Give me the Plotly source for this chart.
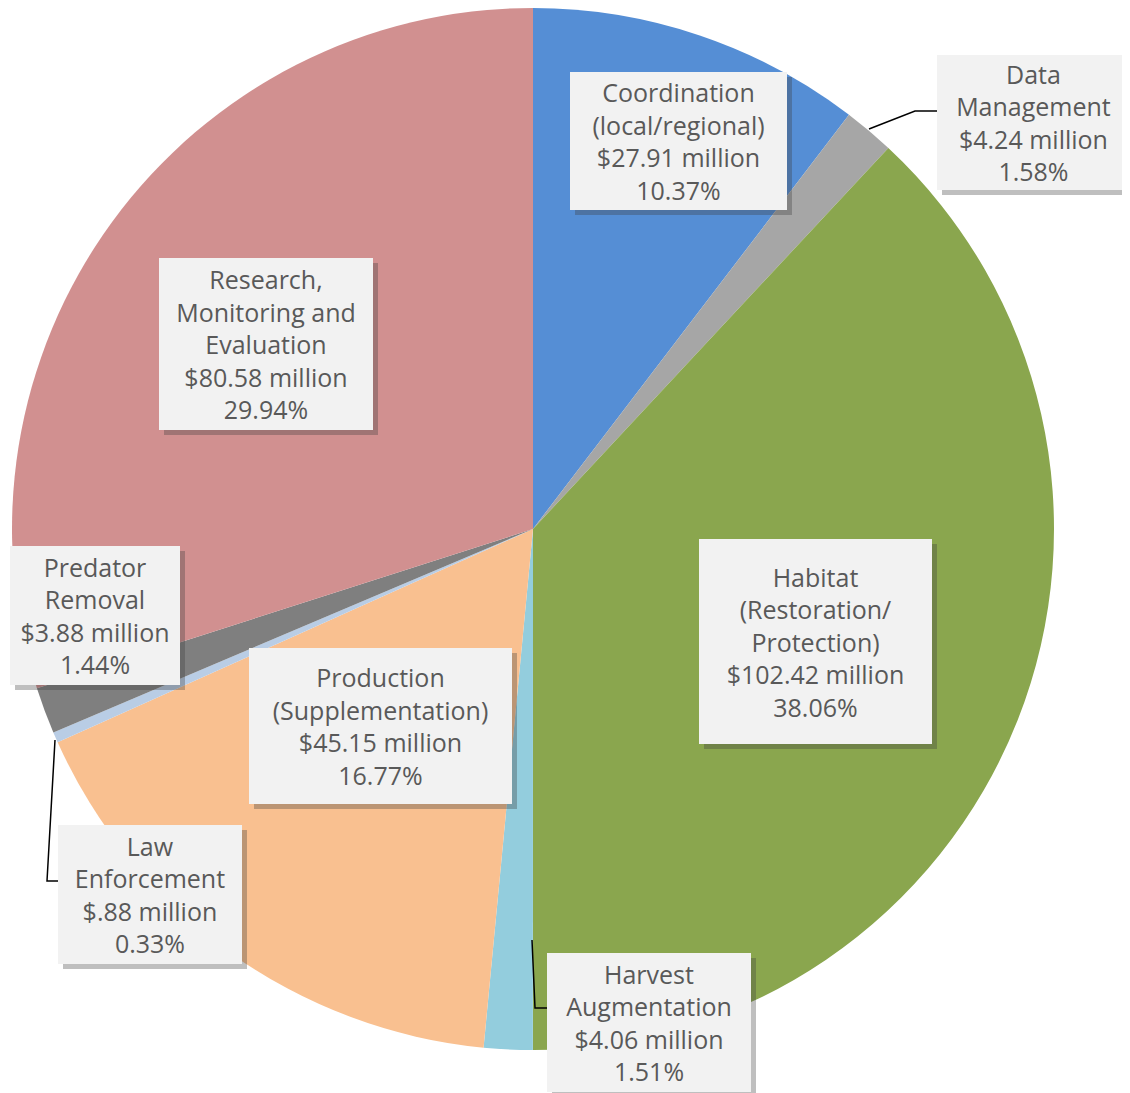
import plotly.graph_objects as go

W, H = 1122, 1085
OFF = 8  # page body offset

categories = ["Coordination (local/regional)", "Data Management", "Habitat (Restoration/ Protection)",
              "Harvest Augmentation", "Production (Supplementation)", "Law Enforcement",
              "Predator Removal", "Research, Monitoring and Evaluation"]
values = [27.91, 4.24, 102.42, 4.06, 45.15, 0.88, 3.88, 80.58]
percents = ["10.37%", "1.58%", "38.06%", "1.51%", "16.77%", "0.33%", "1.44%", "29.94%"]
money = ["$27.91 million", "$4.24 million", "$102.42 million", "$4.06 million",
         "$45.15 million", "$.88 million", "$3.88 million", "$80.58 million"]
label_lines = [["Coordination", "(local/regional)"], ["Data", "Management"],
               ["Habitat", "(Restoration/", "Protection)"], ["Harvest", "Augmentation"],
               ["Production", "(Supplementation)"], ["Law", "Enforcement"],
               ["Predator", "Removal"], ["Research,", "Monitoring and", "Evaluation"]]
colors = ["#558ED5", "#A6A6A6", "#8AA64E", "#93CDDD", "#F9C090", "#B9CDE5", "#7F7F7F", "#D19090"]

# label box layout (pixel centres and sizes, in page pixels)
boxes = [(678, 141, 217, 138), (1033, 123, 193, 135), (815, 641, 233, 205), (649, 1022, 204, 139),
         (380, 726, 263, 156), (150, 894, 184, 139), (95, 615, 170, 139), (266, 344, 214, 172)]

def px(x):
    return min(max((x - OFF) / W, 0), 1)

def py(y):
    return min(max(1 - (y - OFF) / H, 0), 1)

fig = go.Figure()
fig.add_trace(go.Pie(
    labels=categories, values=values, sort=False, direction="clockwise", rotation=0,
    marker=dict(colors=colors, line=dict(width=0)),
    textinfo="none", hoverinfo="label+value+percent", showlegend=False,
    domain=dict(x=[px(12), px(1054)], y=[py(1050), py(8)]),
))

annotations = []
for i, (cx, cy, bw, bh) in enumerate(boxes):
    text = "<br>".join(label_lines[i] + [money[i], percents[i]])
    annotations.append(dict(
        x=(cx + 5 - OFF) / W, y=1 - (cy + 5 - OFF) / H, xref="paper", yref="paper", text="",
        showarrow=False, width=bw, height=bh, bgcolor="rgba(60,60,60,0.33)",
        borderpad=0, borderwidth=0, xanchor="center", yanchor="middle"))
    annotations.append(dict(
        x=(cx - OFF) / W, y=1 - (cy - OFF) / H, xref="paper", yref="paper", text=text,
        showarrow=False, width=bw, height=bh, bgcolor="#F2F2F2",
        borderpad=0, borderwidth=0, xanchor="center", yanchor="middle", align="center",
        font=dict(family="Open Sans, Lato, sans-serif", size=25, color="#595959")))

def path(points):
    d = "M " + " L ".join(f"{px(x)},{py(y)}" for x, y in points)
    return dict(type="path", path=d, xref="paper", yref="paper",
                line=dict(color="black", width=1.5))

shapes = [
    path([(869, 129), (915, 111), (937, 111)]),
    path([(532, 940), (535, 1008), (547, 1008)]),
    path([(55, 740), (47, 881), (58, 881)]),
]

fig.update_layout(
    width=W, height=H, margin=dict(l=0, r=0, t=0, b=0),
    paper_bgcolor="white", plot_bgcolor="white",
    annotations=annotations, shapes=shapes,
)

fig.write_html("out.html")
